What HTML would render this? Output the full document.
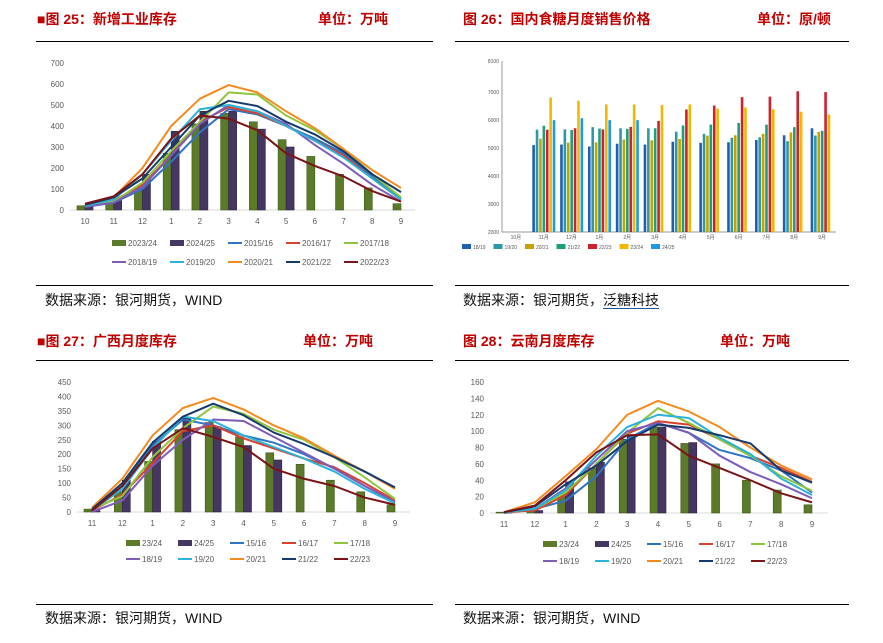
<!DOCTYPE html>
<html><head><meta charset="utf-8">
<style>
body{margin:0;width:883px;height:643px;background:#fff;position:relative;overflow:hidden;font-family:"Liberation Sans","Noto Sans CJK SC",sans-serif}
.t{position:absolute;font-size:14px;font-weight:bold;color:#c00000;white-space:nowrap}
.s{position:absolute;font-size:14px;color:#111;white-space:nowrap}
.hr{position:absolute;height:1px;background:#000}
svg{position:absolute;left:0;top:0}
</style></head><body>
<div class="t" style="left:37px;top:9px">■图 25：新增工业库存</div>
<div class="t" style="left:318px;top:9px">单位：万吨</div>
<div class="t" style="left:463px;top:9px">图 26：国内食糖月度销售价格</div>
<div class="t" style="left:757px;top:9px">单位：原/顿</div>
<div class="hr" style="left:36px;top:41px;width:397px"></div>
<div class="hr" style="left:455px;top:41px;width:394px"></div>
<div class="hr" style="left:36px;top:285px;width:397px"></div>
<div class="hr" style="left:455px;top:285px;width:394px"></div>
<div class="s" style="left:45px;top:290px">数据来源：银河期货，WIND</div>
<div class="s" style="left:463px;top:290px">数据来源：银河期货，<span style="border-bottom:1px solid #1f4fa0">泛糖科技</span></div>
<div class="t" style="left:37px;top:331px">■图 27：广西月度库存</div>
<div class="t" style="left:303px;top:331px">单位：万吨</div>
<div class="t" style="left:463px;top:331px">图 28：云南月度库存</div>
<div class="t" style="left:720px;top:331px">单位：万吨</div>
<div class="hr" style="left:36px;top:360px;width:397px"></div>
<div class="hr" style="left:455px;top:360px;width:394px"></div>
<div class="hr" style="left:36px;top:604px;width:397px"></div>
<div class="hr" style="left:455px;top:604px;width:394px"></div>
<div class="s" style="left:45px;top:608px">数据来源：银河期货，WIND</div>
<div class="s" style="left:463px;top:608px">数据来源：银河期货，WIND</div>
<svg id="sv" width="883" height="643"></svg>
<script>
// Chart 1: 新增工业库存
const c1Cats=["10","11","12","1","2","3","4","5","6","7","8","9"];
const c1Ticks=[0,100,200,300,400,500,600,700];
const c1BarNames=["2023/24","2024/25"];
const c1Bar2324=[20,30,110,270,410,460,420,335,255,170,105,30];
const c1Bar2425=[15,45,170,375,470,470,385,300,null,null,null,null];
const c1LineNames=["2015/16","2016/17","2017/18","2018/19","2019/20","2020/21","2021/22","2022/23"];
const c1L1516=[15,35,100,230,370,480,455,400,340,270,160,55];
const c1L1617=[20,45,120,260,420,490,460,400,330,260,150,50];
const c1L1718=[20,40,130,280,420,560,550,450,380,290,170,60];
const c1L1819=[15,35,110,260,410,500,470,410,310,220,120,40];
const c1L1920=[20,50,170,330,480,500,470,400,330,250,150,50];
const c1L2021=[25,60,200,400,530,595,560,470,390,290,190,105];
const c1L2122=[25,60,150,300,450,520,495,420,360,280,170,85];
const c1L2223=[30,65,170,340,450,435,380,270,210,160,90,40];
// Chart 2: 国内食糖月度销售价格
const c2Cats=["10月","11月","12月","1月","2月","3月","4月","5月","6月","7月","8月","9月"];
const c2Ticks=[2000,3000,4000,5000,6000,7000,8100];
const c2Names=["18/19","19/20","20/21","21/22","22/23","23/24","24/25"];
const c2S1819=[null,5100,5120,5050,5150,5120,5220,5180,5200,5280,5450,5700];
const c2S1920=[null,5650,5660,5740,5700,5700,5580,5500,5360,5380,5240,5440];
const c2S2021=[null,5330,5190,5200,5300,5270,5320,5440,5450,5500,5550,5570];
const c2S2122=[null,5790,5640,5690,5680,5700,5800,5830,5890,5830,5740,5610];
const c2S2223=[null,5650,5700,5660,5750,5960,6370,6510,6810,6830,7020,6990];
const c2S2324=[null,6790,6680,6550,6550,6530,6550,6400,6440,6380,6290,6190];
const c2S2425=[null,5990,6060,5990,5990,null,null,null,null,null,null,null];
// Chart 3: 广西月度库存
const c3Cats=["11","12","1","2","3","4","5","6","7","8","9"];
const c3Ticks=[0,50,100,150,200,250,300,350,400,450];
const c3BarNames=["23/24","24/25"];
const c3Bar2324=[10,70,175,285,310,260,205,165,110,70,25];
const c3Bar2425=[5,110,245,325,295,230,180,null,null,null,null];
const c3LineNames=["15/16","16/17","17/18","18/19","19/20","20/21","21/22","22/23"];
const c3L1516=[5,90,230,320,300,265,240,200,150,90,35];
const c3L1617=[5,60,170,280,300,255,220,185,155,100,40];
const c3L1718=[10,55,190,290,365,340,285,250,190,120,45];
const c3L1819=[0,40,160,250,320,315,260,205,150,90,35];
const c3L1920=[5,80,220,330,315,265,225,185,140,80,30];
const c3L2021=[15,115,265,360,395,355,300,255,195,140,80];
const c3L2122=[10,100,240,330,375,335,275,235,190,140,85];
const c3L2223=[5,90,220,290,260,225,150,115,90,50,25];
// Chart 4: 云南月度库存
const c4Cats=["11","12","1","2","3","4","5","6","7","8","9"];
const c4Ticks=[0,20,40,60,80,100,120,140,160];
const c4Bar2324=[1,5,25,55,90,105,85,60,40,28,10];
const c4Bar2425=[1,3,38,62,95,105,86,null,null,null,null];
const c4L1516=[0,5,15,45,90,110,98,77,67,52,25];
const c4L1617=[1,3,22,60,97,112,108,90,70,55,38];
const c4L1718=[1,5,25,60,98,128,110,90,70,45,27];
const c4L1819=[1,5,30,65,100,110,98,70,50,35,18];
const c4L1920=[1,5,28,70,105,120,116,92,72,42,22];
const c4L2021=[1,13,45,78,120,137,124,105,80,58,41];
const c4L2122=[1,8,35,58,88,108,104,95,85,52,37];
const c4L2223=[1,9,40,74,95,96,70,55,40,24,13];

const NS="http://www.w3.org/2000/svg";
const sv=document.getElementById('sv');
function mk(tag,attrs,parent){const e=document.createElementNS(NS,tag);for(const k in attrs)e.setAttribute(k,attrs[k]);(parent||sv).appendChild(e);return e;}
const lineCols=["#2e75c6","#d9412f","#8fc43b","#7e5cb8","#2bb2d8","#f58a1f","#153a6b","#7a1416"];
const barCols=["#5b7a2a","#463762"];

function comboChart(name,o,cats,ticks,bars,lines,barNames,lineNames){
  const g=mk('g',{});
  
  
  const ymax=ticks[ticks.length-1];
  const y=v=>o.y0-v/ymax*(o.y0-o.ytop);
  const n=cats.length;
  const x=i=>o.xf+i*(o.xl-o.xf)/(n-1);
  ticks.forEach(t=>{const e=mk('text',{x:o.ax-6,y:y(t)+3,'font-size':8,'text-anchor':'end',fill:'#595959'},g);e.textContent=t;
    });
  const ax=mk('line',{x1:o.ax,x2:o.axr,y1:o.y0,y2:o.y0,stroke:'#d9d9d9'},g);
  
  cats.forEach((c,i)=>{const e=mk('text',{x:x(i),y:o.y0+14,'font-size':8,'text-anchor':'middle',fill:'#595959'},g);e.textContent=c;
    });
  const bw=o.bw;
  bars.forEach((arr,si)=>arr.forEach((v,i)=>{if(v==null)return;
    const bx=si==0?x(i)-bw:x(i);
    const r=mk('rect',{x:bx,y:y(v),width:bw,height:o.y0-y(v),fill:barCols[si],stroke:si==0?'#3e5a1a':'#2e2440','stroke-width':0.6},g);
    }));
  lines.forEach((arr,si)=>{const pts=arr.map((v,i)=>x(i)+','+y(v)).join(' ');
    const p=mk('polyline',{points:pts,fill:'none',stroke:lineCols[si],'stroke-width':2,'stroke-linejoin':'round'},g);
    });
  const items=barNames.map((nm,i)=>({nm,c:barCols[i],bar:1})).concat(lineNames.map((nm,i)=>({nm,c:lineCols[i]})));
  items.forEach((it,k)=>{const row=k<5?0:1;const col=k%5;const lx=o.lx+col*o.lw;const ly=row?o.ly2:o.ly1;
    if(it.bar)mk('rect',{x:lx,y:ly-3,width:14,height:6,fill:it.c},g);
    else mk('line',{x1:lx,x2:lx+14,y1:ly,y2:ly,stroke:it.c,'stroke-width':2},g);
    const t=mk('text',{x:lx+16,y:ly+3,'font-size':8,fill:'#595959'},g);t.textContent=it.nm;
    });
}
comboChart('chart-fig25',{y0:210,ytop:63,xf:85,xl:401,ax:70,axr:415,bw:8,lx:112,lw:58,ly1:243,ly2:262},
  c1Cats,c1Ticks,[c1Bar2324,c1Bar2425],[c1L1516,c1L1617,c1L1718,c1L1819,c1L1920,c1L2021,c1L2122,c1L2223],c1BarNames,c1LineNames);
comboChart('chart-fig27',{y0:512,ytop:382,xf:92,xl:395,ax:77,axr:410,bw:8,lx:126,lw:52,ly1:543,ly2:559},
  c3Cats,c3Ticks,[c3Bar2324,c3Bar2425],[c3L1516,c3L1617,c3L1718,c3L1819,c3L1920,c3L2021,c3L2122,c3L2223],c3BarNames,c3LineNames);
comboChart('chart-fig28',{y0:513,ytop:382,xf:504,xl:812,ax:490,axr:828,bw:8,lx:543,lw:52,ly1:544,ly2:561},
  c4Cats,c4Ticks,[c4Bar2324,c4Bar2425],[c4L1516,c4L1617,c4L1718,c4L1819,c4L1920,c4L2021,c4L2122,c4L2223],c3BarNames,c3LineNames);

(function(){
  const g=mk('g',{});
  
  
  const y0=232,yt=61,ax=502,axr=836;
  const lo=c2Ticks[0],hi=c2Ticks[c2Ticks.length-1];
  const y=v=>y0-(v-lo)/(hi-lo)*(y0-yt);
  const cw=(axr-ax)/c2Cats.length;
  const cols=["#1f5fad","#2a9aa8","#c8a000","#1aa07a","#d0202f","#f2b800","#1e9be0"];
  mk('line',{x1:ax,x2:ax,y1:yt,y2:y0,stroke:'#999'},g);
  mk('line',{x1:ax,x2:axr,y1:y0,y2:y0,stroke:'#999'},g);
  c2Ticks.forEach(t=>{const e=mk('text',{x:ax-3,y:y(t)+2,'font-size':5,'text-anchor':'end',fill:'#555'},g);e.textContent=t;
    });
  c2Cats.forEach((c,i)=>{const e=mk('text',{x:ax+cw*(i+0.5),y:y0+7,'font-size':5,'text-anchor':'middle',fill:'#555'},g);e.textContent=c;
    });
  const series=[c2S1819,c2S1920,c2S2021,c2S2122,c2S2223,c2S2324,c2S2425];
  series.forEach((arr,si)=>arr.forEach((v,i)=>{if(v==null)return;
    const bx=ax+cw*i+2.5+si*3.4;
    const r=mk('rect',{x:bx,y:y(v),width:2.6,height:y0-y(v),fill:cols[si]},g);
    }));
  c2Names.forEach((nm,k)=>{const lx=462+k*31.5;
    mk('rect',{x:lx,y:244,width:9,height:5,fill:cols[k]},g);
    const t=mk('text',{x:lx+11,y:249,'font-size':5,fill:'#555'},g);t.textContent=nm;
    });
})();
</script>
</body></html>
